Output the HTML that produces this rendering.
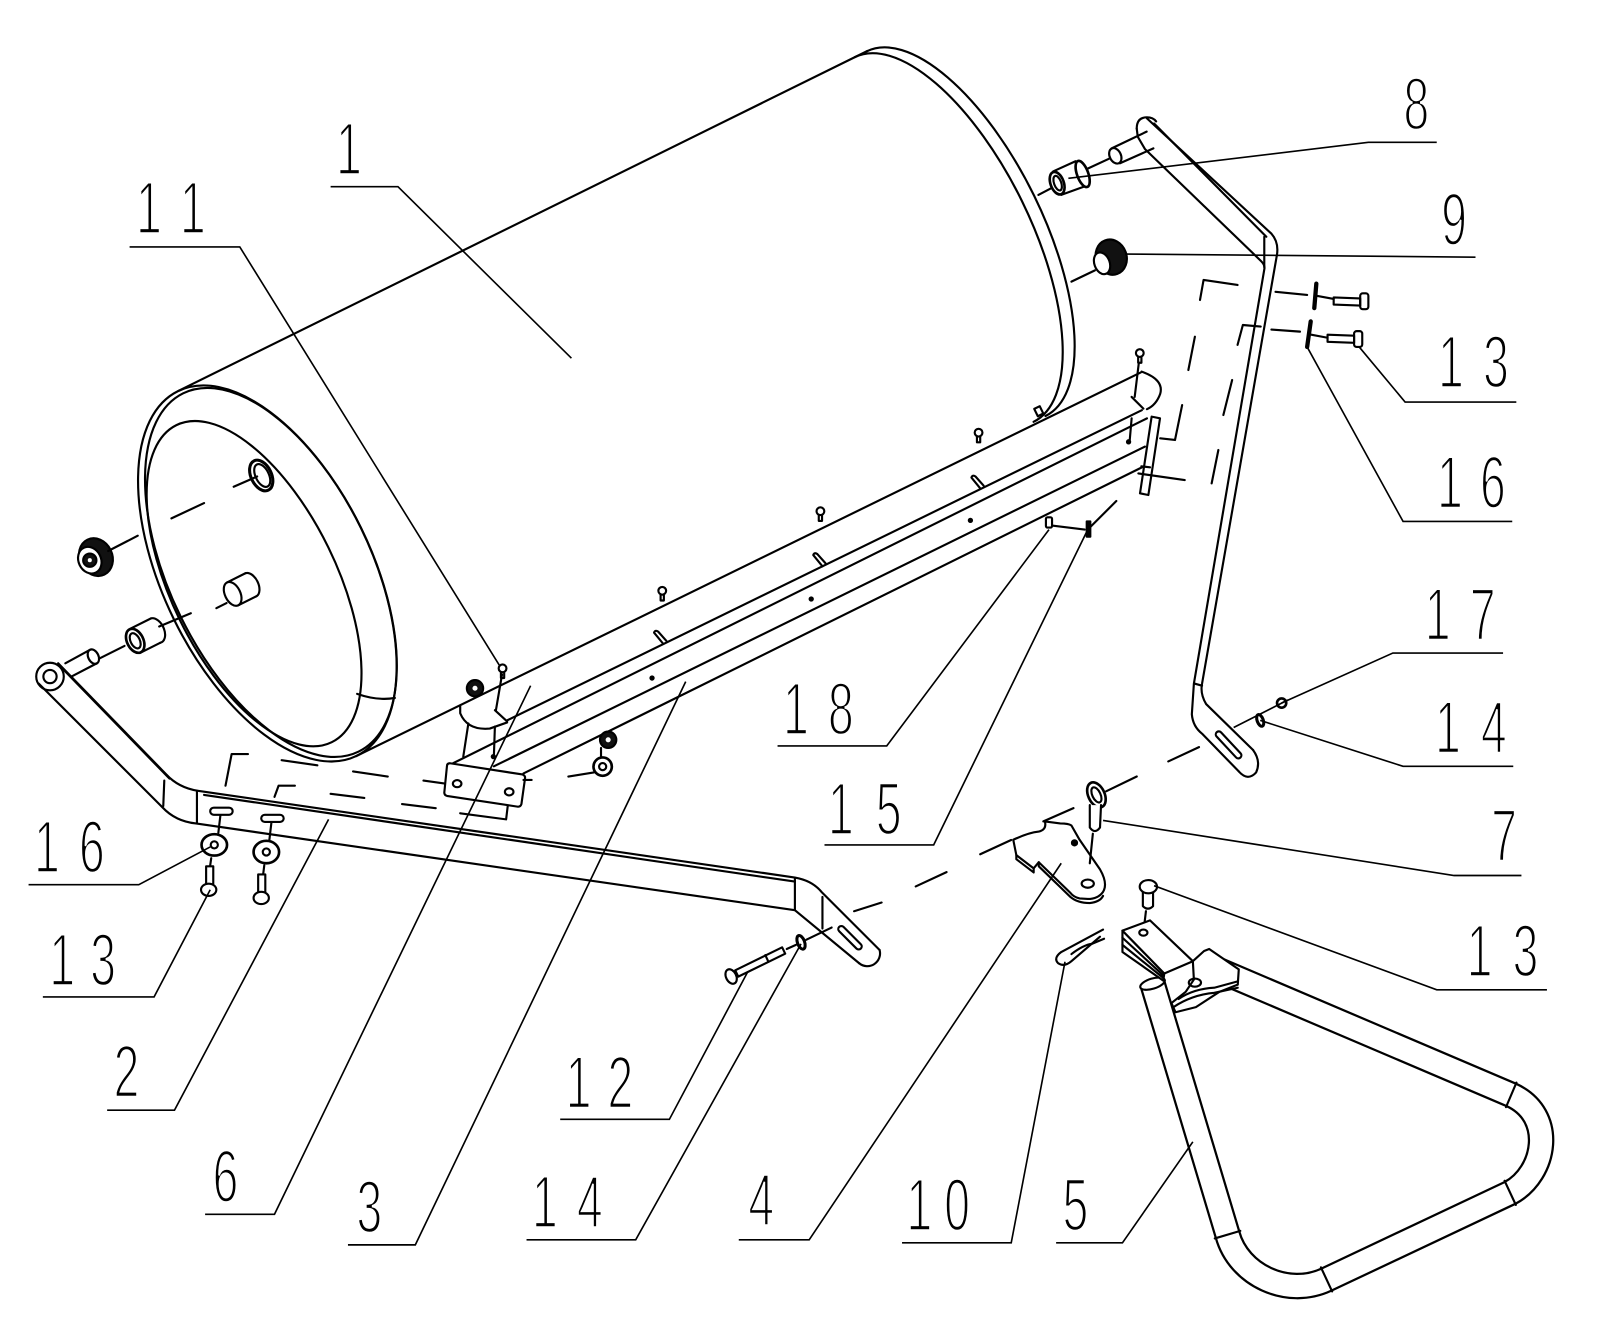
<!DOCTYPE html>
<html><head><meta charset="utf-8"><style>
html,body{margin:0;padding:0;background:#fff;}
svg{display:block;}
.t{font-family:"Liberation Sans",sans-serif;font-size:73px;text-anchor:middle;fill:#000;stroke:#fff;stroke-width:2.4px;}
</style></head><body>
<svg xmlns="http://www.w3.org/2000/svg" width="1600" height="1321" viewBox="0 0 1568 1294.6" preserveAspectRatio="none">
<rect x="0" y="0" width="1568" height="1294.6" fill="#fff"/>
<g fill="none" stroke="#000" stroke-width="2.1" stroke-linecap="round" stroke-linejoin="round">

<!-- DRUM -->
<path d="M175,383 L850,50"/>
<path d="M349,741 L1118,365"/>
<ellipse cx="262" cy="562" rx="102" ry="199" transform="rotate(-26.1 262 562)"/>
<ellipse cx="265.5" cy="561" rx="98.5" ry="195.5" transform="rotate(-26.1 265.5 561)"/>
<ellipse cx="249" cy="572" rx="81" ry="173" transform="rotate(-26.1 249 572)"/>
<path d="M350,680 Q370,687 387,684"/>
<path d="M849.4,50.3 A85,199 -26.1 0 1 1024.6,407.7"/>
<path d="M837.7,56 A85,199 -26.1 0 1 1012.9,413.4"/>
<rect x="1015" y="399" width="6" height="8" transform="rotate(-26 1018 403)"/>

<!-- drum screws -->
<g>
<circle cx="492.5" cy="655" r="3.8"/><path d="M490.9,658.5 v6 h3.2 v-6"/>
<circle cx="649" cy="579" r="3.8"/><path d="M647.4,582.5 v6 h3.2 v-6"/>
<circle cx="804" cy="501" r="3.8"/><path d="M802.4,504.5 v6 h3.2 v-6"/>
<circle cx="959" cy="424" r="3.8"/><path d="M957.4,427.5 v6 h3.2 v-6"/>
<circle cx="1117" cy="346" r="3.8"/><path d="M1115.4,349.5 v6 h3.2 v-6"/>
</g>

<!-- LEFT FACE ITEMS -->
<ellipse cx="256" cy="466" rx="10" ry="16" transform="rotate(-26 256 466)" stroke-width="3"/>
<ellipse cx="257" cy="466" rx="6.5" ry="12" transform="rotate(-26 257 466)"/>
<path d="M168,508 L200,493 M229,477 L252,467"/>
<path d="M222.5,570.8 L240.5,561.8 M233.5,593.2 L251.5,584.2"/>
<path d="M240.5,561.8 A7.5,12.5 -26 0 1 251.5,584.2"/>
<ellipse cx="228" cy="582" rx="7.5" ry="12.5" transform="rotate(-26 228 582)"/>
<path d="M212,596 L222,591"/>
<path d="M128,616 L148,606 M137,640 L157,630"/>
<path d="M148,606 A8,12.5 -26 0 1 157,630"/>
<ellipse cx="132.5" cy="628" rx="8" ry="12.5" transform="rotate(-26 132.5 628)" stroke-width="2.6"/>
<ellipse cx="132.5" cy="628" rx="4.5" ry="8" transform="rotate(-26 132.5 628)"/>
<path d="M98,645 L122,633 M156,614 L187,601"/>
<ellipse cx="94" cy="546" rx="16" ry="19" transform="rotate(-26 94 546)" fill="#111"/>
<ellipse cx="88" cy="549" rx="11" ry="13.5" transform="rotate(-26 88 549)" fill="#fff"/>
<circle cx="88" cy="549" r="6.5" fill="#111"/>
<circle cx="88" cy="549" r="2" fill="#fff" stroke="none"/>
<path d="M106,540 L135,525"/>

<!-- LEFT ARM (2) -->
<circle cx="49" cy="663" r="13.5"/>
<circle cx="49" cy="663" r="6.5"/>
<path d="M64,650 L88,637 M70,663 L95,650"/>
<ellipse cx="91.5" cy="643.5" rx="5" ry="7.5" transform="rotate(-26 91.5 643.5)"/>
<path d="M57,650 L163,759 Q175,772 194,775 L779,860 Q796,863 805,874 L862,931"/>
<path d="M61,655 L166,763 M200,779 L779,864"/>
<path d="M38,670 L159,791 Q172,805 192,807 L779,892 L842,944"/>
<path d="M862,931 A12.5,12.5 0 0 1 842,944"/>
<path d="M161,765 L160,790 M193,775 L193,807 M779,861 L779,892 M806,879 L806,910"/>
<rect x="-15" y="-3" width="30" height="6" rx="3" transform="translate(833 919) rotate(45)"/>
<rect x="206" y="791.5" width="22" height="7" rx="3.5"/>
<rect x="256" y="798.5" width="22" height="7" rx="3.5"/>
<path d="M216,799 L214,816 M266,806 L264,823"/>
<ellipse cx="210" cy="828" rx="12.5" ry="10.5" stroke-width="2.6"/>
<circle cx="210" cy="828" r="3.5"/>
<ellipse cx="261" cy="835" rx="12.5" ry="11" stroke-width="2.6"/>
<circle cx="261" cy="835" r="3.5"/>
<path d="M202,849 L202,866 M209,849 L209,866 M202,849 L209,849"/>
<ellipse cx="204.5" cy="872" rx="7.5" ry="6"/>
<path d="M253,857 L253,874 M260,857 L260,874 M253,857 L260,857"/>
<ellipse cx="256" cy="880" rx="7.5" ry="6"/>
<path d="M207,841 L206,848 M259,848 L258,856"/>

<!-- dashed rows near left arm -->
<path d="M243,739 L227,739 L221,770"/>
<path d="M276,745 L311,750 M346,756 L380,761 M415,765 L444,769"/>
<path d="M289,770 L273,770 L269,781"/>
<path d="M324,778 L357,782 M394,788 L427,792"/>
<path d="M451,797 L496,803 L499,778"/>

<!-- FRAME (3/6) -->
<path d="M497,706 L1119,402"/>
<path d="M444,748 L1124,410"/>
<path d="M484,751 L1122,437.7"/>
<path d="M513,758 L1120.5,457.3"/>
<g fill="#000" stroke="none">
<circle cx="639" cy="664.5" r="2.6"/><circle cx="795" cy="587" r="2.6"/>
<circle cx="951" cy="510" r="2.6"/><circle cx="1106" cy="433" r="2.6"/>
<circle cx="483.5" cy="741.5" r="2.6"/>
</g>
<path d="M650,631 L641,620 Q642,617 645,619 L653,628"/>
<path d="M806,555 L797,544 Q798,541 801,543 L809,552"/>
<path d="M961,479 L952,468 Q953,465 956,467 L964,476"/>
<path d="M451,692 L451,699 Q458,716 480,714 L497,708"/>
<path d="M485,696 L497,707"/>
<path d="M459,709 L454,741.5 M485,712 L484,741 M492,661 L486,696"/>
<circle cx="465.5" cy="674.5" r="8" fill="#111"/>
<circle cx="465.5" cy="674.5" r="2.5" fill="#fff" stroke="none"/>
<path d="M1118.8,364.2 Q1141,372 1137,386 Q1133,397 1124,401"/>
<path d="M1109,389 L1120.5,400.5"/>
<path d="M1116,356 L1112,389 M1109,410 L1107,433"/>
<path d="M1128.6,408.3 L1136.8,410 L1125.4,485.1 L1117.2,483.5 Z" fill="#fff"/>
<path d="M1118.5,457 L1127,458"/>
<path d="M1115.6,464 L1161,470.5"/>
<!-- left plate -->
<path d="M441,748 L512,759 Q515,760 514.5,763 L511,788 Q510,791 507,790.5 L438,780 Q435,779 435.5,776 L438,751 Q438,748 441,748 Z" fill="#fff"/>
<ellipse cx="448" cy="768" rx="4.2" ry="3.5"/>
<ellipse cx="499" cy="776" rx="4.2" ry="3.5"/>
<path d="M513,764.4 L521,764.4"/>
<circle cx="596" cy="725" r="8" fill="#111"/>
<circle cx="596" cy="725" r="2.5" fill="#fff" stroke="none"/>
<circle cx="590.6" cy="751.3" r="9" stroke-width="2.6"/>
<circle cx="590.6" cy="751.3" r="3.5"/>
<path d="M589,733 L589,742 M557,761 L582,757"/>
<!-- parts 18, 15 -->
<rect x="1025" y="507" width="6" height="10" rx="1.5"/>
<rect x="1065" y="511" width="3.5" height="15" fill="#000"/>
<path d="M1031,515 L1063,519 M1069,516 L1094,491"/>

<!-- RIGHT ARM -->
<path d="M1114,126 Q1114,115 1124,115 Q1130,115 1133,119"/>
<path d="M1124,116 L1246,229 Q1254,238 1251,252 L1178,670 Q1176,680 1182,690 L1228,735"/>
<path d="M1131,121 L1241,232"/>
<path d="M1114,126 L1115,134 L1122,146 L1236,256 Q1240,260 1239,264 L1170,670 L1168,700 Q1169,712 1178,719 L1214,756"/>
<path d="M1214,756 Q1223,766 1231,757 Q1236,746 1228,735"/>
<path d="M1239,232 L1239,262 M1171,670 L1178,672"/>
<rect x="-17" y="-3" width="34" height="6" rx="3" transform="translate(1204 730) rotate(47)"/>
<path d="M1089.4,145.4 L1123.7,129 M1097.6,160 L1130.3,145.4"/>
<ellipse cx="1093" cy="152.7" rx="5.5" ry="8" transform="rotate(-26 1093 152.7)"/>
<path d="M1063,166.6 L1088,155"/>
<!-- bushing 8 -->
<path d="M1032,168 L1054,158 M1040,191 L1062,183"/>
<ellipse cx="1061" cy="170.5" rx="5.5" ry="13.5" transform="rotate(-20 1061 170.5)" fill="#fff" stroke-width="2.6"/>
<ellipse cx="1036" cy="179.5" rx="6.5" ry="11.5" transform="rotate(-20 1036 179.5)" fill="#fff" stroke-width="2.6"/>
<ellipse cx="1036.5" cy="179.5" rx="3.5" ry="7.5" transform="rotate(-20 1036.5 179.5)"/>
<path d="M1017.6,191 L1030,184.5"/>
<!-- knob 9 right -->
<ellipse cx="1089" cy="252" rx="15" ry="17.5" transform="rotate(-20 1089 252)" fill="#111"/>
<ellipse cx="1080" cy="258" rx="7.5" ry="11" transform="rotate(-20 1080 258)" fill="#fff"/>
<path d="M1050,276 L1073,265"/>
<!-- right washers & bolts -->
<path d="M1290,278 L1288,302 M1284.5,315 L1281,340" stroke-width="4.2"/>
<path d="M1307,291.5 L1333,292.5 L1333,299.5 L1307,298.5 Z"/>
<rect x="1333" y="287.5" width="8" height="15.5" rx="2.5"/>
<path d="M1301,328 L1327,329 L1327,336 L1301,335 Z"/>
<rect x="1327" y="324.5" width="8" height="15.5" rx="2.5"/>
<path d="M1250,286 L1281,289 M1291,290 L1307,293 M1246,323 L1274,325 M1285,328 L1301,331"/>
<!-- dashed phantom at right -->
<path d="M1212.8,279.3 L1179.5,274.4 L1176,294"/>
<path d="M1171,330 L1164.6,362.6 M1158.5,397 L1151.5,431.2 L1137,429.6"/>
<path d="M1235.5,320 L1218,318.5 L1212.8,338"/>
<path d="M1207.5,372.4 L1198.9,406.7 M1194,441 L1187.4,473.7"/>

<!-- LOWER CENTER -->
<path d="M720.5,950.9 L766.5,928.4 L769.5,934.6 L723.5,957.1 Z" fill="#fff"/>
<path d="M750,936 L753,942.5"/>
<ellipse cx="716.5" cy="957" rx="5" ry="7.5" transform="rotate(-26 716.5 957)" fill="#fff"/>
<ellipse cx="785" cy="923.5" rx="3.5" ry="7" transform="rotate(-20 785 923.5)" stroke-width="3"/>
<path d="M771,930 L780,926 M790,921 L815,909"/>
<path d="M837,893 L864,884.5 M897.4,868.7 L927.6,854.7 M960.6,837.2 L990.9,823.2 M1022.5,805 L1052,792 M1084,775.5 L1114,761 M1144.9,746.2 L1175,732.2"/>
<!-- plate 4 -->
<path d="M993,823 Q1008,816 1018,815 Q1026,813 1024,805 L1039,807 Q1047,807 1050,809 L1058,823 L1078,852 Q1086,866 1081,874 Q1076,881 1066,881 L1058,880.5 Q1052,879 1049,875 L1018,845 L1013,851 L996,838 Z" fill="#fff"/>
<path d="M996,838 L996,842 L1013,855 L1013,851 M1018,845 L1018,849 L1049,879 Q1056,885 1068,885 Q1078,884 1081,878"/>
<ellipse cx="1066" cy="866" rx="6" ry="4"/>
<circle cx="1053" cy="826" r="2.5" fill="#000"/>
<!-- pin 7 -->
<ellipse cx="1074.5" cy="779" rx="8" ry="13" transform="rotate(-25 1074.5 779)" stroke-width="2.6"/>
<ellipse cx="1074.5" cy="779" rx="4" ry="8" transform="rotate(-25 1074.5 779)"/>
<path d="M1068,789 L1068,811 Q1073,818 1078,811 L1079,789" fill="#fff"/>
<path d="M1071,817 L1068,846"/>
<!-- clip 10 -->
<path d="M1081,911 L1040,933 Q1032,939 1037,944 Q1043,948 1050,942 L1078,918"/>
<path d="M1050,935 Q1062,926 1070,925 L1082,920"/>
<!-- bolt 13 lower -->
<path d="M1120,874 L1120,888 Q1125,893 1130,888 L1130,874" fill="#fff"/>
<ellipse cx="1125.4" cy="869" rx="8.5" ry="6.5" fill="#fff"/>
<path d="M1123,893 L1121,910"/>

<!-- HANDLE 5 -->
<path d="M1130,966 L1203,1210 C1214,1250 1262,1272 1300,1254 L1480,1169 C1515,1150 1525,1093 1481,1073 L1183,946" stroke-width="26" stroke-linecap="butt"/>
<path d="M1130,966 L1203,1210 C1214,1250 1262,1272 1300,1254 L1480,1169 C1515,1150 1525,1093 1481,1073 L1183,946" stroke="#fff" stroke-width="21.6" stroke-linecap="butt"/>
<ellipse cx="1129.5" cy="964" rx="12.5" ry="5" transform="rotate(-17 1129.5 964)" fill="#fff"/>
<path d="M1190.5,1213.7 L1215.5,1206.3 M1294.5,1242 L1305.5,1265.6 M1474.5,1157.2 L1485.5,1180.8 M1475.9,1085 L1486.1,1061"/>
<!-- handle plates -->
<path d="M1100,912 L1100,933 L1140,961 L1141,954 Z" fill="#fff"/>
<path d="M1100,919 L1140.5,956.3 M1100,926 L1140.3,958.6"/>
<path d="M1100,912 L1127,902 L1169,942 L1141,954 Z" fill="#fff"/>
<ellipse cx="1120.5" cy="914" rx="4" ry="3"/>
<path d="M1169,942 L1180,932 L1185,930 L1214,950 L1213,965 L1195,972 L1172,987 L1152,992 L1148,983 L1162,972 L1170,960 Z" fill="#fff"/>
<path d="M1150,987 Q1168,975 1190,973 L1213,968 M1155,979 Q1170,969 1190,968 L1212,962"/>
<ellipse cx="1171" cy="963" rx="6" ry="4"/>
</g>

<!-- LEADER LINES -->
<g fill="none" stroke="#000" stroke-width="1.6" stroke-linejoin="miter">
<path d="M560,351 L390,183 L324,183"/>
<path d="M490,653 L235,242 L127,242"/>
<path d="M1047,174.8 L1341,139.5 L1408,139.5"/>
<path d="M1102.5,249 L1446,252"/>
<path d="M1332,340 L1377,394 L1486,394"/>
<path d="M1281,340 L1375,511 L1482,511"/>
<path d="M1256,689 L1365,640 L1473,640"/>
<path d="M1235,706 L1375,751 L1483,751"/>
<path d="M1209,713 L1262,686"/>
<circle cx="1256" cy="689" r="4.5" stroke-width="2.6"/>
<ellipse cx="1235" cy="706" rx="3" ry="6" transform="rotate(-20 1235 706)" stroke-width="3"/>
<path d="M1081,804 L1425,858 L1491,858"/>
<path d="M1131,868 L1408,970 L1516,970"/>
<path d="M1169,1119 L1100,1218 L1035,1218"/>
<path d="M1043.7,942.5 L991,1218 L884,1218"/>
<path d="M1040,846 L793,1215 L724,1215"/>
<path d="M785,925 L623,1215 L516,1215"/>
<path d="M733,952 L656,1097 L549,1097"/>
<path d="M672,668 L407,1220 L341,1220"/>
<path d="M520,672 L269,1190 L201,1190"/>
<path d="M322,803 L171,1088 L105,1088"/>
<path d="M206,872 L151,977 L42,977"/>
<path d="M206,830 L136,867 L28,867"/>
<path d="M1028,519 L869,731 L762,731"/>
<path d="M1066,519 L915,828 L808,828"/>
</g>

<!-- LABELS -->
<g class="lbl">
<text class="t" transform="translate(342,171) scale(0.62,1)" x="0">1</text>
<text class="t" transform="translate(146,229) scale(0.62,1)" x="0 69.4">11</text>
<text class="t" transform="translate(1388,127) scale(0.62,1)" x="0">8</text>
<text class="t" transform="translate(1425,240) scale(0.62,1)" x="0">9</text>
<text class="t" transform="translate(1422,380) scale(0.62,1)" x="0 71">13</text>
<text class="t" transform="translate(1421,498) scale(0.62,1)" x="0 67.7">16</text>
<text class="t" transform="translate(1409,627) scale(0.62,1)" x="0 71">17</text>
<text class="t" transform="translate(1419,738) scale(0.62,1)" x="0 72.6">14</text>
<text class="t" transform="translate(1474,844) scale(0.62,1)" x="0">7</text>
<text class="t" transform="translate(1450,957) scale(0.62,1)" x="0 72.6">13</text>
<text class="t" transform="translate(1054,1206) scale(0.62,1)" x="0">5</text>
<text class="t" transform="translate(901,1206) scale(0.62,1)" x="0 59.7">10</text>
<text class="t" transform="translate(746,1201) scale(0.62,1)" x="0">4</text>
<text class="t" transform="translate(534,1203) scale(0.62,1)" x="0 71">14</text>
<text class="t" transform="translate(567,1086) scale(0.62,1)" x="0 66.1">12</text>
<text class="t" transform="translate(362,1208) scale(0.62,1)" x="0">3</text>
<text class="t" transform="translate(221,1178) scale(0.62,1)" x="0">6</text>
<text class="t" transform="translate(124,1075) scale(0.62,1)" x="0">2</text>
<text class="t" transform="translate(61,966) scale(0.62,1)" x="0 64.5">13</text>
<text class="t" transform="translate(46,855) scale(0.62,1)" x="0 71">16</text>
<text class="t" transform="translate(780,720) scale(0.62,1)" x="0 71">18</text>
<text class="t" transform="translate(824,818) scale(0.62,1)" x="0 75.8">15</text>
</g>
</svg>
</body></html>
